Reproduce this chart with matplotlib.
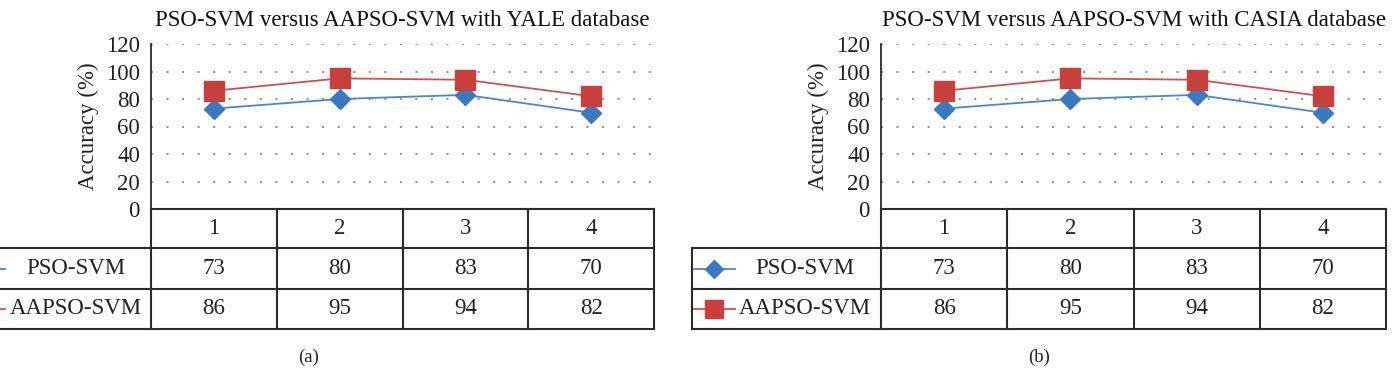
import matplotlib
matplotlib.use('Agg')
import matplotlib.pyplot as plt
from matplotlib.lines import Line2D
from matplotlib.transforms import blended_transform_factory

plt.rcParams['font.family'] = ['Liberation Serif', 'DejaVu Serif']

# data
categories = ['1', '2', '3', '4']
pso_svm = [73, 80, 83, 70]
aapso_svm = [86, 95, 94, 82]
series_names = ['PSO-SVM', 'AAPSO-SVM']
titles = ['PSO-SVM versus AAPSO-SVM with YALE database',
          'PSO-SVM versus AAPSO-SVM with CASIA database']
panel_tags = ['(a)', '(b)']

BLUE = '#3b78be'
RED = '#c8403d'
BLUE_LINE = '#4f86c6'
RED_LINE = '#d0504d'
EDGE = '#2b2b2b'
FS = 16.5

fig = plt.figure(figsize=(13.98, 3.74), dpi=100)
W, H = 1398, 374


def add_ax(x0, x1, ytop, ybot):
    return fig.add_axes([x0 / W, (H - ybot) / H, (x1 - x0) / W, (ybot - ytop) / H])


def panel(ax, title, tag):
    xs = list(range(1, len(categories) + 1))
    ax.plot(xs, pso_svm, color=BLUE_LINE, lw=1.3, marker='D', ms=10.5,
            mfc=BLUE, mec=BLUE, zorder=3)
    ax.plot(xs, aapso_svm, color=RED_LINE, lw=1.3, marker='s', ms=15,
            mfc=RED, mec=RED, zorder=3)
    ax.set_xlim(0.5, len(categories) + 0.5)
    ax.set_ylim(0, 120)
    ax.set_yticks(range(0, 121, 20))
    ax.set_xticks([])
    ax.grid(axis='y', ls=(0, (1, 7)), color='#8c8c8c', lw=1.4)
    ax.set_axisbelow(True)
    for s in ['top', 'right']:
        ax.spines[s].set_visible(False)
    ax.spines['left'].set_color(EDGE)
    ax.spines['left'].set_linewidth(1.3)
    ax.spines['bottom'].set_color(EDGE)
    ax.spines['bottom'].set_linewidth(1.5)
    ax.tick_params(axis='y', length=0, pad=8, labelsize=FS, colors='#222222')
    ax.set_ylabel('Accuracy (%)', fontsize=FS, color='#222222', labelpad=5)
    ax.set_title(title, fontsize=FS, color='#111111', pad=13)

    # data table under the plot
    tr = blended_transform_factory(ax.transData, ax.transAxes)
    ah = ax.get_position().height * H
    rows = [-39 / ah, -80 / ah, -120 / ah]
    x_left = -1.0
    x_right = len(categories) + 0.5
    kw = dict(transform=tr, clip_on=False, color=EDGE, lw=1.5)
    for y in rows:
        ax.add_line(Line2D([x_left, x_right], [y, y], **kw))
    for xv in [i + 0.5 for i in range(len(categories) + 1)]:
        ax.add_line(Line2D([xv, xv], [rows[2], 0], **kw))
    ax.add_line(Line2D([x_left, x_left], [rows[2], rows[0]], **kw))

    for i, c in enumerate(categories):
        ax.text(i + 1, rows[0] / 2, c, transform=tr, ha='center', va='center',
                fontsize=FS, color='#222222')
    for r, vals in enumerate([pso_svm, aapso_svm]):
        yc = (rows[r] + rows[r + 1]) / 2
        for i, v in enumerate(vals):
            ax.text(i + 1, yc, str(v), transform=tr, ha='center', va='center',
                    fontsize=FS, color='#222222')
        ax.text(-0.1, yc, series_names[r], transform=tr, ha='center',
                va='center', fontsize=FS, color='#222222')
        col, lc, mk, ms = [(BLUE, BLUE_LINE, 'D', 9.5), (RED, RED_LINE, 's', 13)][r]
        ax.add_line(Line2D([-0.98, -0.66], [yc, yc], transform=tr, clip_on=False,
                           color=lc, lw=1.3))
        ax.add_line(Line2D([-0.82], [yc], transform=tr, clip_on=False, marker=mk,
                           ms=ms, mfc=col, mec=col, lw=0))
    ax.text((x_left + x_right) / 2, -0.9, tag, transform=tr, ha='center',
            va='center', fontsize=13.5, color='#222222')


ax1 = add_ax(151, 654, 44, 209)
ax2 = add_ax(881, 1386, 44, 209)
panel(ax1, titles[0], panel_tags[0])
panel(ax2, titles[1], panel_tags[1])

fig.savefig('out.png', dpi=100, facecolor='white')
